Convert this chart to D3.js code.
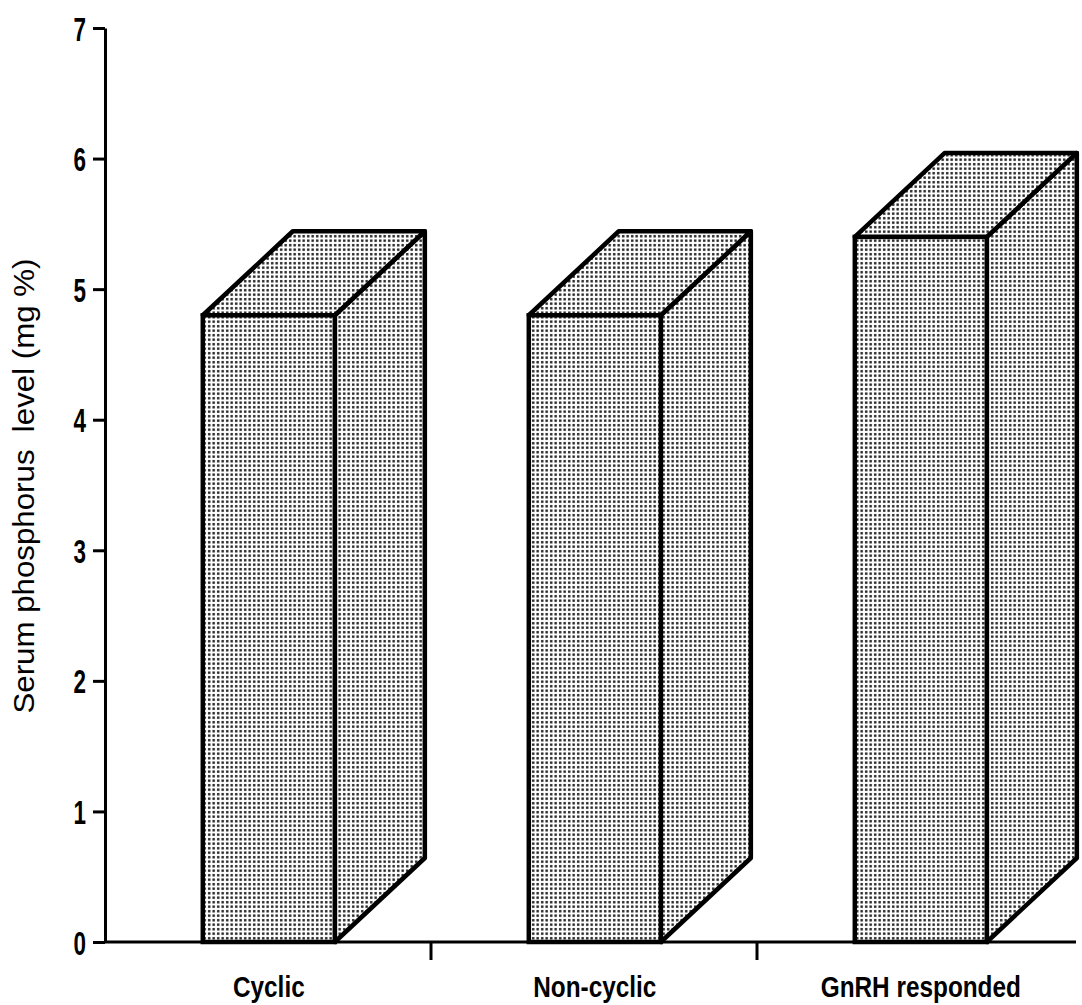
<!DOCTYPE html>
<html>
<head>
<meta charset="utf-8">
<script src="https://cdn.jsdelivr.net/npm/d3@7"></script>
<style>
  body { margin: 0; background: #fff; }
  svg { display: block; }
</style>
</head>
<body>
<div class="chart"></div>
<script>
// data
const categories = ["Cyclic", "Non-cyclic", "GnRH responded"];
const values = [4.8, 4.8, 5.4];
const yTicks = [0, 1, 2, 3, 4, 5, 6, 7];
const yLabel = "Serum phosphorus\u00a0 level (mg %)";

let width = 1082, height = 1005;
let depthX = 90, depthY = 84;
let font = "'Liberation Sans', Arial, sans-serif";

let svg = d3.select(".chart")
  .append("svg")
  .attr("width", width)
  .attr("height", height);

// dotted fill like the printed screen
let defs = svg.append("defs");
let pat = defs.append("pattern")
  .attr("id", "dots")
  .attr("patternUnits", "userSpaceOnUse")
  .attr("width", 4.5)
  .attr("height", 4.5);
pat.append("rect").attr("width", 4.5).attr("height", 4.5).attr("fill", "#fff");
pat.append("rect").attr("x", 1).attr("y", 1).attr("width", 2.4).attr("height", 2.4).attr("fill", "#1a1a1a");

let y = d3.scaleLinear().domain([0, 7]).range([942, 28]);
let x = d3.scaleBand().domain(categories).range([105, 1083]);

let faceOff = x.bandwidth() * 0.30;
let faceW = x.bandwidth() * 0.405;

let data = categories.map((c, i) => ({ cat: c, val: values[i] }));

let bars = svg.selectAll(".bar")
  .data(data)
  .enter()
  .append("g")
  .attr("class", "bar");

// side face
bars.append("path")
  .attr("d", d => {
    let x1 = x(d.cat) + faceOff + faceW, y0 = y(0), yt = y(d.val);
    return `M${x1},${y0} L${x1 + depthX},${y0 - depthY} L${x1 + depthX},${yt - depthY} L${x1},${yt} Z`;
  })
  .attr("fill", "url(#dots)")
  .attr("stroke", "#000")
  .attr("stroke-width", 4.5)
  .attr("stroke-linejoin", "round");

// top face
bars.append("path")
  .attr("d", d => {
    let x0 = x(d.cat) + faceOff, x1 = x0 + faceW, yt = y(d.val);
    return `M${x0},${yt} L${x0 + depthX},${yt - depthY} L${x1 + depthX},${yt - depthY} L${x1},${yt} Z`;
  })
  .attr("fill", "url(#dots)")
  .attr("stroke", "#000")
  .attr("stroke-width", 4.5)
  .attr("stroke-linejoin", "round");

// front face
bars.append("rect")
  .attr("x", d => x(d.cat) + faceOff)
  .attr("y", d => y(d.val))
  .attr("width", faceW)
  .attr("height", d => y(0) - y(d.val))
  .attr("fill", "url(#dots)")
  .attr("stroke", "#000")
  .attr("stroke-width", 4.5);

// y axis
let yAxis = svg.append("g")
  .attr("transform", "translate(105,0)")
  .call(d3.axisLeft(y).tickValues(yTicks).tickFormat(d3.format("d")).tickSize(12).tickSizeOuter(0).tickPadding(0));
yAxis.select(".domain").attr("stroke-width", 3);
yAxis.selectAll(".tick line").attr("stroke-width", 3);
yAxis.selectAll(".tick text")
  .attr("x", null)
  .attr("dy", null)
  .attr("transform", "translate(-19,12) scale(0.66,1)")
  .style("font-family", font)
  .style("font-weight", "bold")
  .style("font-size", "34px")
  .attr("fill", "#000");

// x axis line with ticks between groups
svg.append("line")
  .attr("x1", 105).attr("x2", 1076)
  .attr("y1", y(0)).attr("y2", y(0))
  .attr("stroke", "#000")
  .attr("stroke-width", 3);

svg.selectAll(".xtick")
  .data(categories.slice(1))
  .enter()
  .append("line")
  .attr("x1", d => x(d)).attr("x2", d => x(d))
  .attr("y1", y(0)).attr("y2", y(0) + 18)
  .attr("stroke", "#000")
  .attr("stroke-width", 3);

svg.selectAll(".xlabel")
  .data(categories)
  .enter()
  .append("text")
  .attr("transform", d => `translate(${x(d) + faceOff + faceW / 2},997) scale(0.84,1)`)
  .attr("text-anchor", "middle")
  .style("font-family", font)
  .style("font-weight", "bold")
  .style("font-size", "29px")
  .text(d => d);

svg.append("text")
  .attr("transform", "translate(34,486) rotate(-90)")
  .attr("text-anchor", "middle")
  .attr("textLength", 455)
  .attr("lengthAdjust", "spacingAndGlyphs")
  .style("font-family", font)
  .style("font-size", "30px")
  .text(yLabel);
</script>
</body>
</html>
